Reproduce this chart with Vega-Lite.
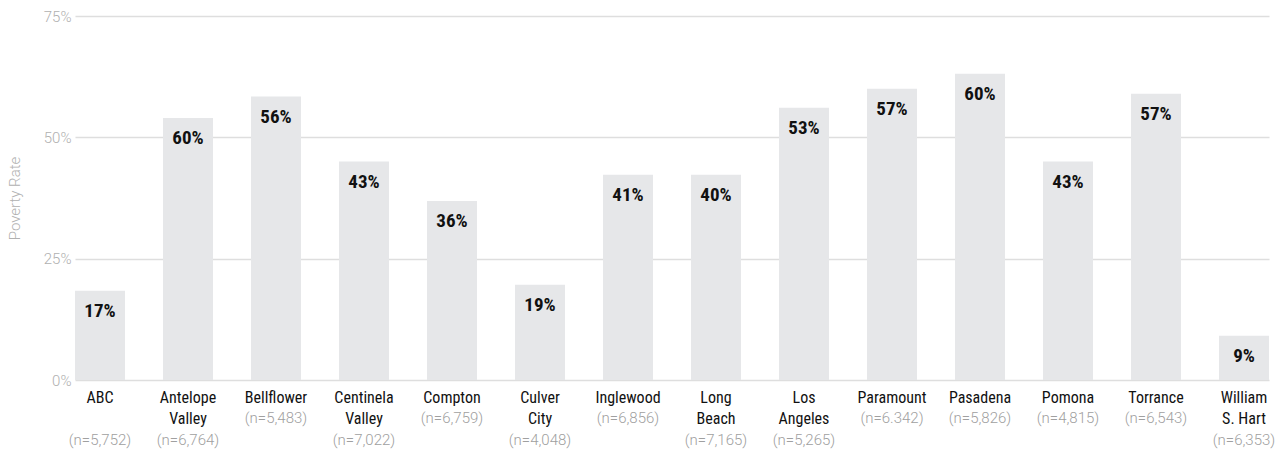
{
  "$schema": "https://vega.github.io/schema/vega-lite/v6.json",
  "width": 1194,
  "height": 364,
  "autosize": {"type": "none"},
  "padding": {"left": 75, "top": 16, "right": 19, "bottom": 71},
  "background": "white",
  "config": {
    "view": {"stroke": null},
    "font": "Roboto Condensed, Liberation Sans Narrow, Roboto, sans-serif"
  },
  "data": {
    "values": [
      {"xlabel": "ABC||(n=5,752)", "rate": 18.4, "label": "17%"},
      {"xlabel": "Antelope|Valley|(n=6,764)", "rate": 54.0, "label": "60%"},
      {"xlabel": "Bellflower|(n=5,483)", "rate": 58.4, "label": "56%"},
      {"xlabel": "Centinela|Valley|(n=7,022)", "rate": 45.0, "label": "43%"},
      {"xlabel": "Compton|(n=6,759)", "rate": 36.9, "label": "36%"},
      {"xlabel": "Culver|City|(n=4,048)", "rate": 19.6, "label": "19%"},
      {"xlabel": "Inglewood|(n=6,856)", "rate": 42.3, "label": "41%"},
      {"xlabel": "Long|Beach|(n=7,165)", "rate": 42.3, "label": "40%"},
      {"xlabel": "Los|Angeles|(n=5,265)", "rate": 56.1, "label": "53%"},
      {"xlabel": "Paramount|(n=6.342)", "rate": 60.0, "label": "57%"},
      {"xlabel": "Pasadena|(n=5,826)", "rate": 63.1, "label": "60%"},
      {"xlabel": "Pomona|(n=4,815)", "rate": 45.0, "label": "43%"},
      {"xlabel": "Torrance|(n=6,543)", "rate": 59.0, "label": "57%"},
      {"xlabel": "William|S. Hart|(n=6,353)", "rate": 9.1, "label": "9%"}
    ]
  },
  "encoding": {
    "y": {
      "field": "rate",
      "type": "quantitative",
      "scale": {"domain": [0, 75], "nice": false},
      "axis": {
        "values": [0, 25, 50, 75],
        "labelExpr": "datum.value + '%'",
        "title": "Poverty Rate",
        "titleColor": "#b0b0b0",
        "titleFont": "Roboto, sans-serif",
        "titleFontWeight": 300,
        "titleFontSize": 15,
        "titlePadding": 21,
        "labelColor": "#b0b0b0",
        "labelFont": "Roboto, sans-serif",
        "labelFontWeight": 300,
        "labelFontSize": 15,
        "labelPadding": 4,
        "ticks": false,
        "domain": false,
        "gridColor": "#dedede",
        "gridWidth": 1.5
      }
    }
  },
  "layer": [
    {
      "mark": {"type": "bar", "color": "#e6e7e9"},
      "encoding": {
        "x": {
          "field": "xlabel",
          "type": "nominal",
          "sort": null,
          "scale": {"paddingInner": 0.432, "paddingOuter": 0},
          "axis": {
            "orient": "bottom",
            "title": null,
            "labelExpr": "split(replace(datum.label, regexp('\\\\|?\\\\(n=.*\\\\)'), ''), '|')",
            "labelAngle": 0,
            "labelBaseline": "top",
            "labelAlign": "center",
            "labelPadding": 9,
            "labelLineHeight": 21.5,
            "labelFontSize": 16,
            "labelColor": "#111111",
            "labelLimit": 0,
            "ticks": false,
            "domain": false,
            "grid": false
          }
        }
      }
    },
    {
      "mark": {"type": "text", "baseline": "middle", "dy": 20, "fontSize": 19, "fontWeight": "bold", "color": "#111111"},
      "encoding": {
        "x": {
          "field": "xlabel",
          "type": "nominal",
          "sort": null,
          "scale": {"paddingInner": 0.432, "paddingOuter": 0},
          "axis": {
            "orient": "bottom",
            "title": null,
            "labelExpr": "replace(datum.label, regexp('^.*\\\\|'), '')",
            "labelAngle": 0,
            "labelBaseline": "top",
            "labelAlign": "center",
            "labelPadding": {"expr": "length(split(datum.value, '|')) > 2 ? 52 : 30.5"},
            "labelFont": "Roboto, sans-serif",
            "labelFontWeight": 300,
            "labelFontSize": 15,
            "labelColor": "#a0a0a0",
            "labelLimit": 0,
            "ticks": false,
            "domain": false,
            "grid": false
          }
        },
        "text": {"field": "label"}
      }
    }
  ],
  "resolve": {"axis": {"x": "independent"}}
}
